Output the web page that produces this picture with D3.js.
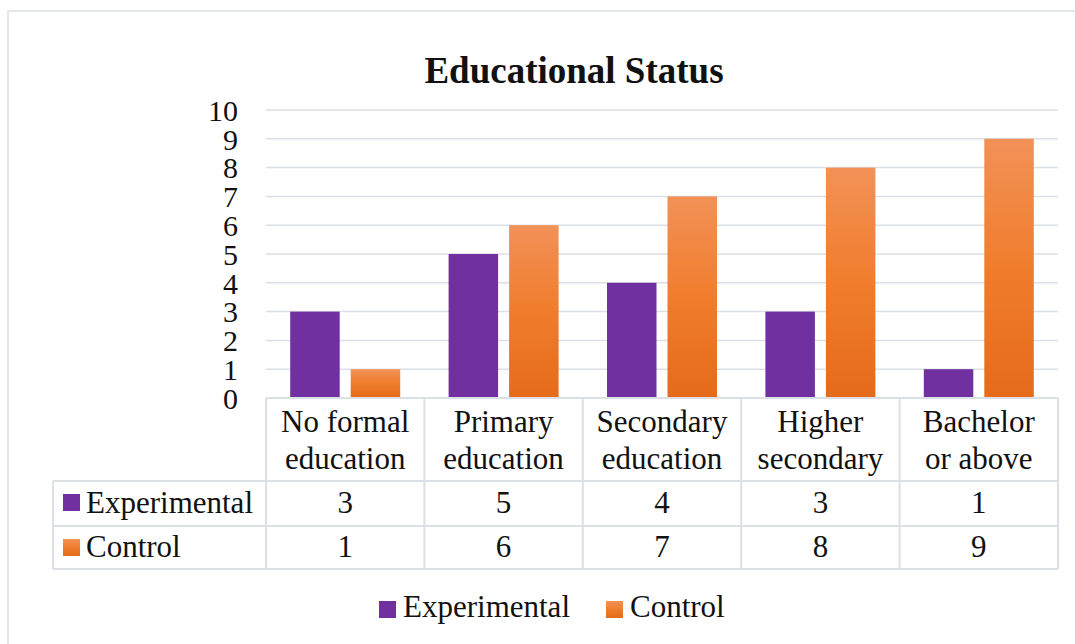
<!DOCTYPE html>
<html>
<head>
<meta charset="utf-8">
<script src="https://cdn.jsdelivr.net/npm/d3@7/dist/d3.min.js"></script>
<style>
  html, body { margin: 0; padding: 0; background: #fff; }
  svg { display: block; }
</style>
</head>
<body>
<svg id="chart" width="1075" height="644"></svg>
<script>
// Chart data
const categories = [
  ["No formal", "education"],
  ["Primary", "education"],
  ["Secondary", "education"],
  ["Higher", "secondary"],
  ["Bachelor", "or above"]
];
const seriesNames = ["Experimental", "Control"];
const experimental = [3, 5, 4, 3, 1];
const control = [1, 6, 7, 8, 9];
const yTicks = [0, 1, 2, 3, 4, 5, 6, 7, 8, 9, 10];
const title = "Educational Status";

const seriesValues = [experimental, control];
const catKeys = categories.map(c => c.join(" "));

const FONT = "Liberation Serif";
const svg = d3.select("#chart");
const gridColor = "#dcdfe6";
const textColor = "#111";

// Serif text helper
function label(parent, x, y, str, size, anchor) {
  return parent.append("text")
    .attr("x", x).attr("y", y)
    .attr("text-anchor", anchor || "start")
    .attr("fill", textColor)
    .style("font-family", FONT)
    .style("font-size", size + "px")
    .text(str);
}

// Gradient for the orange series
const defs = svg.append("defs");
const grad = defs.append("linearGradient")
  .attr("id", "orangeGrad").attr("x1", 0).attr("y1", 0).attr("x2", 0).attr("y2", 1);
grad.append("stop").attr("offset", "0%").attr("stop-color", "#f29157");
grad.append("stop").attr("offset", "50%").attr("stop-color", "#f07d2c");
grad.append("stop").attr("offset", "100%").attr("stop-color", "#e56b1a");
const fills = ["#7030a0", "url(#orangeGrad)"];

// Outer frame
svg.append("rect")
  .attr("x", 8).attr("y", 11).attr("width", 1100).attr("height", 700)
  .attr("fill", "none").attr("stroke", gridColor).attr("stroke-width", 1.5);

// Title
label(svg, 574, 83, title, 37, "middle").style("font-weight", "bold");

// Scales
const plotLeft = 266, plotRight = 1058, plotTop = 110, plotBottom = 398;
const x = d3.scaleBand().domain(catKeys).range([plotLeft, plotRight]).padding(0);
const xInner = d3.scaleBand().domain(seriesNames).range([0, x.bandwidth()])
  .paddingInner(0.182).paddingOuter(0.4);
const y = d3.scaleLinear().domain([0, 10]).range([plotBottom, plotTop]);

// Gridlines
svg.append("g").selectAll("line").data(yTicks.filter(t => t > 0)).join("line")
  .attr("x1", plotLeft).attr("x2", plotRight)
  .attr("y1", d => y(d)).attr("y2", d => y(d))
  .attr("stroke", gridColor).attr("stroke-width", 1.5);

// Y axis labels
const yAxis = d3.axisLeft(y).tickValues(yTicks).tickSize(0).tickPadding(0);
const yG = svg.append("g").attr("transform", "translate(238,0)").call(yAxis);
yG.select(".domain").remove();
yG.selectAll("text")
  .attr("fill", textColor)
  .attr("dy", "0.34em")
  .style("font-family", FONT)
  .style("font-size", "30px");

// Bars
seriesNames.forEach((s, si) => {
  svg.append("g").selectAll("rect").data(seriesValues[si]).join("rect")
    .attr("x", (d, i) => x(catKeys[i]) + xInner(s))
    .attr("y", d => y(d))
    .attr("width", xInner.bandwidth())
    .attr("height", d => y(0) - y(d))
    .attr("fill", fills[si]);
});

// Data table
const tableLeft = 53;
const rowY = [398, 481, 526, 569];
const tbl = svg.append("g");
const lineAttrs = sel => sel.attr("stroke", gridColor).attr("stroke-width", 2).attr("fill", "none");

// horizontal lines
tbl.append("line").attr("x1", plotLeft).attr("x2", plotRight).attr("y1", rowY[0]).attr("y2", rowY[0]).call(lineAttrs);
[rowY[1], rowY[2], rowY[3]].forEach(yy => {
  tbl.append("line").attr("x1", tableLeft).attr("x2", plotRight).attr("y1", yy).attr("y2", yy).call(lineAttrs);
});
// vertical lines
tbl.append("line").attr("x1", tableLeft).attr("x2", tableLeft).attr("y1", rowY[1]).attr("y2", rowY[3]).call(lineAttrs);
catKeys.forEach(k => {
  tbl.append("line").attr("x1", x(k)).attr("x2", x(k)).attr("y1", rowY[0]).attr("y2", rowY[3]).call(lineAttrs);
});
tbl.append("line").attr("x1", plotRight).attr("x2", plotRight).attr("y1", rowY[0]).attr("y2", rowY[3]).call(lineAttrs);

// Category labels
categories.forEach((c, i) => {
  const cx = x(catKeys[i]) + x.bandwidth() / 2;
  c.forEach((line, li) => label(tbl, cx, 432 + li * 36.5, line, 31, "middle"));
});

// Series rows
const rowBaselines = [513, 557];
seriesNames.forEach((s, si) => {
  const top = rowY[si + 1];
  tbl.append("rect").attr("x", 63).attr("y", top + 13).attr("width", 17).attr("height", 17)
    .attr("fill", fills[si]);
  label(tbl, 86, rowBaselines[si], s, 31);
  seriesValues[si].forEach((v, i) => {
    label(tbl, x(catKeys[i]) + x.bandwidth() / 2, rowBaselines[si], v, 31, "middle");
  });
});

// Legend
const legendX = [379, 606];
seriesNames.forEach((s, si) => {
  const g = svg.append("g");
  g.append("rect").attr("x", legendX[si]).attr("y", 601).attr("width", 17).attr("height", 17)
    .attr("fill", fills[si]);
  label(g, legendX[si] + 24, 617, s, 31);
});
</script>
</body>
</html>
